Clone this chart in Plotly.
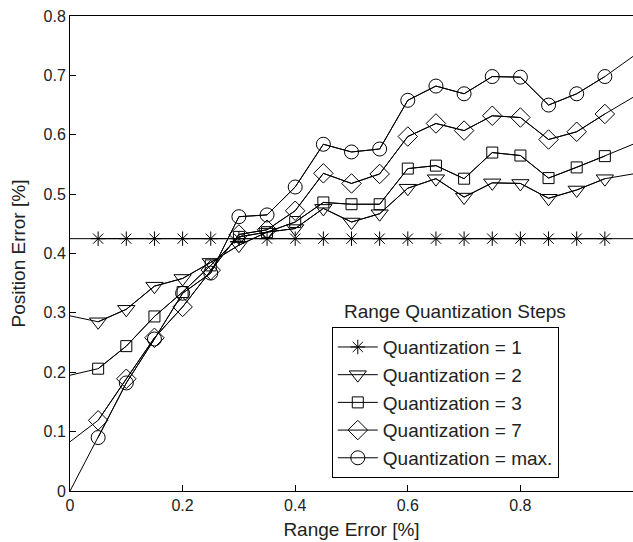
import plotly.graph_objects as go

range_error = [0.0, 0.05, 0.10, 0.15, 0.20, 0.25, 0.30, 0.35, 0.40, 0.45, 0.50,
               0.55, 0.60, 0.65, 0.70, 0.75, 0.80, 0.85, 0.90, 0.95, 1.0]

q1 = [0.425, 0.425, 0.425, 0.425, 0.425, 0.425, 0.425, 0.425, 0.425, 0.425, 0.425,
      0.425, 0.425, 0.425, 0.425, 0.425, 0.425, 0.425, 0.425, 0.425, 0.425]
q2 = [0.295, 0.285, 0.306, 0.345, 0.358, 0.385, 0.414, 0.436, 0.442, 0.476, 0.453,
      0.467, 0.510, 0.526, 0.495, 0.519, 0.518, 0.493, 0.507, 0.526, 0.534]
q3 = [0.195, 0.206, 0.244, 0.294, 0.335, 0.380, 0.428, 0.436, 0.453, 0.486, 0.483,
      0.483, 0.543, 0.548, 0.526, 0.570, 0.565, 0.527, 0.545, 0.564, 0.584]
q7 = [0.083, 0.119, 0.189, 0.258, 0.310, 0.372, 0.432, 0.440, 0.472, 0.535, 0.518,
      0.534, 0.597, 0.619, 0.607, 0.632, 0.629, 0.592, 0.605, 0.635, 0.663]
qmax = [0.0, 0.090, 0.182, 0.256, 0.333, 0.367, 0.462, 0.465, 0.512, 0.584, 0.571,
        0.576, 0.658, 0.682, 0.669, 0.698, 0.697, 0.650, 0.669, 0.698, 0.732]

series_names = ["Quantization = 1", "Quantization = 2", "Quantization = 3",
                "Quantization = 7", "Quantization = max."]
series_values = [q1, q2, q3, q7, qmax]
symbols = ["asterisk-open", "triangle-down-open", "square-open", "diamond-open", "circle-open"]
sizes = [12, 15, 11, 15, 14]

x_ticks = [0, 0.2, 0.4, 0.6, 0.8, 1.0]
x_tick_labels = ["0", "0.2", "0.4", "0.6", "0.8", "1"]
y_ticks = [0, 0.1, 0.2, 0.3, 0.4, 0.5, 0.6, 0.7, 0.8]
y_tick_labels = ["0", "0.1", "0.2", "0.3", "0.4", "0.5", "0.6", "0.7", "0.8"]

FONT = "Arial, Liberation Sans, sans-serif"
TXT = "#222"

fig = go.Figure()
for name, vals, sym, sz in zip(series_names, series_values, symbols, sizes):
    # full line (reaching the axes), no markers at the ends
    fig.add_trace(go.Scatter(
        x=range_error, y=vals, mode="lines",
        line=dict(color="black", width=1), showlegend=False, hoverinfo="skip"))
    # markers at interior points
    fig.add_trace(go.Scatter(
        x=range_error[1:-1], y=vals[1:-1], mode="lines+markers", name=name,
        line=dict(color="black", width=1),
        marker=dict(symbol=sym, size=sz, color="black", line=dict(color="black", width=1))))

fig.update_layout(
    width=633, height=542,
    margin=dict(l=70, r=0, t=16, b=51),
    paper_bgcolor="white", plot_bgcolor="white",
    font=dict(family=FONT, size=16, color=TXT),
    xaxis=dict(
        range=[0, 1], tickvals=x_ticks, ticktext=x_tick_labels,
        ticks="inside", ticklen=6, tickcolor="black",
        tickfont=dict(size=16, color=TXT),
        showline=True, linecolor="black", linewidth=1, mirror=True,
        showgrid=False, zeroline=False,
        title=dict(text="Range Error [%]", font=dict(size=19, color=TXT), standoff=9),
    ),
    yaxis=dict(
        range=[0, 0.8], tickvals=y_ticks, ticktext=y_tick_labels,
        ticks="inside", ticklen=6, tickcolor="black",
        tickfont=dict(size=16, color=TXT),
        showline=True, linecolor="black", linewidth=1, mirror=False,
        showgrid=False, zeroline=False,
        title=dict(text="Position Error [%]", font=dict(size=19, color=TXT), standoff=12),
    ),
    legend=dict(
        x=0.465, y=0.345, xanchor="left", yanchor="top",
        bgcolor="white", bordercolor="black", borderwidth=1,
        font=dict(size=19, color=TXT), itemwidth=40, tracegroupgap=0,
    ),
    annotations=[dict(
        text="Range Quantization Steps", x=0.684, y=0.377, xref="paper", yref="paper",
        xanchor="center", yanchor="middle", showarrow=False,
        font=dict(size=19, color=TXT))],
)

fig.write_html("out.html")
